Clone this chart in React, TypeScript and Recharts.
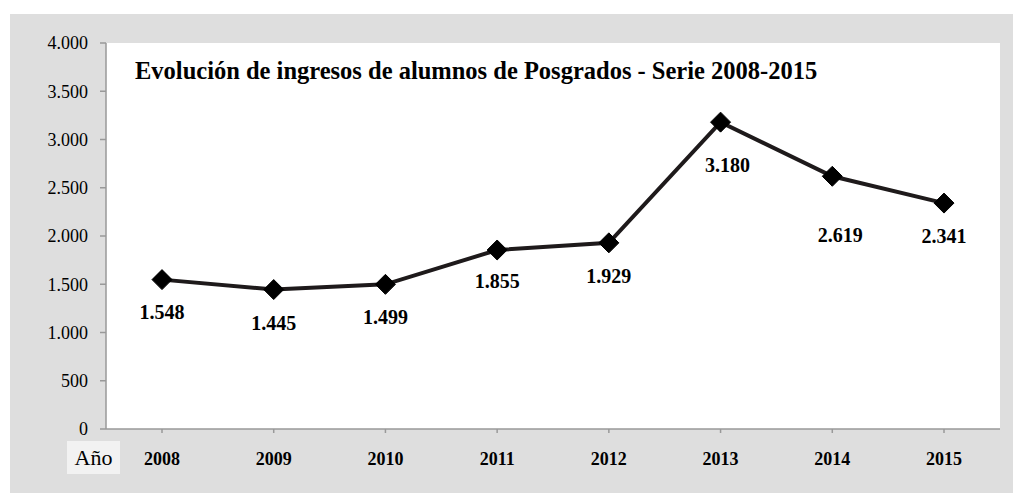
import { LineChart, Line, XAxis, YAxis, CartesianGrid, LabelList } from "recharts";

const YEARS = ["2008", "2009", "2010", "2011", "2012", "2013", "2014", "2015"];
const INGRESOS = [1548, 1445, 1499, 1855, 1929, 3180, 2619, 2341];
const Y_TICKS = [0, 500, 1000, 1500, 2000, 2500, 3000, 3500, 4000];
const TITLE = "Evolución de ingresos de alumnos de Posgrados - Serie 2008-2015";

// label nudges (px) – the source had a couple of labels dragged by hand
const LABEL_DY = [32, 33, 33, 31, 33, 43, 59, 33];
const LABEL_DX = [0, 0, 0, 0, 0, 7, 8, 0];

const SERIF = "'Liberation Serif', 'Times New Roman', serif";
const fmt = (v: number) => v.toLocaleString("de-DE");

const data = YEARS.map((y, i) => ({ year: y, value: INGRESOS[i] }));

function Diamond(props: any) {
  const { cx, cy } = props;
  if (cx == null || cy == null) return null;
  const r = 10;
  return (
    <polygon
      points={`${cx},${cy - r} ${cx + r},${cy} ${cx},${cy + r} ${cx - r},${cy}`}
      fill="#000"
      stroke="#000"
      strokeWidth={1}
    />
  );
}

function ValueLabel(props: any) {
  const { x, y, value, index } = props;
  return (
    <text
      x={x + LABEL_DX[index]}
      y={y + LABEL_DY[index]}
      dy="0.35em"
      textAnchor="middle"
      fontFamily={SERIF}
      fontWeight="bold"
      fontSize={20}
      fill="#000"
    >
      {fmt(value)}
    </text>
  );
}

export default function App() {
  return (
    <div style={{ position: "absolute", left: 0, top: 0, width: 1013, height: 494, background: "#fff" }}>
      <div style={{ position: "absolute", left: 10, top: 14, width: 1003, height: 479, background: "#dedede" }} />
      <div style={{ position: "absolute", left: 0, top: 0 }}>
        <LineChart width={1013} height={494} data={data} margin={{ top: 43, right: 13, left: 10, bottom: 35 }}>
          <CartesianGrid horizontal={false} vertical={false} fill="#ffffff" stroke="none" />
          <XAxis
            dataKey="year"
            padding={{ left: 56, right: 56 }}
            height={30}
            stroke="#999"
            strokeWidth={1.5}
            tickSize={4}
            tickMargin={19}
            tick={{ fontFamily: SERIF, fontSize: 18, fontWeight: "bold", fill: "#000" }}
          />
          <YAxis
            domain={[0, 4000]}
            ticks={Y_TICKS}
            width={96}
            stroke="#999"
            strokeWidth={1.5}
            tickSize={6}
            tickMargin={12}
            tickFormatter={fmt}
            tick={{ fontFamily: SERIF, fontSize: 18, fill: "#000" }}
          />
          <Line
            isAnimationActive={false}
            type="linear"
            dataKey="value"
            stroke="#1e1a1b"
            strokeWidth={4}
            dot={<Diamond />}
          >
            <LabelList dataKey="value" content={<ValueLabel />} />
          </Line>
        </LineChart>
      </div>
      <svg width={1013} height={494} style={{ position: "absolute", left: 0, top: 0, pointerEvents: "none" }}>
        <text x={135} y={79} fontFamily={SERIF} fontWeight="bold" fontSize={24.5} fill="#000">
          {TITLE}
        </text>
        <rect x={67} y={441} width={53} height={33} fill="#f2f2f2" />
        <text x={93.5} y={465} textAnchor="middle" fontFamily={SERIF} fontSize={22} fill="#000">
          Año
        </text>
      </svg>
    </div>
  );
}
